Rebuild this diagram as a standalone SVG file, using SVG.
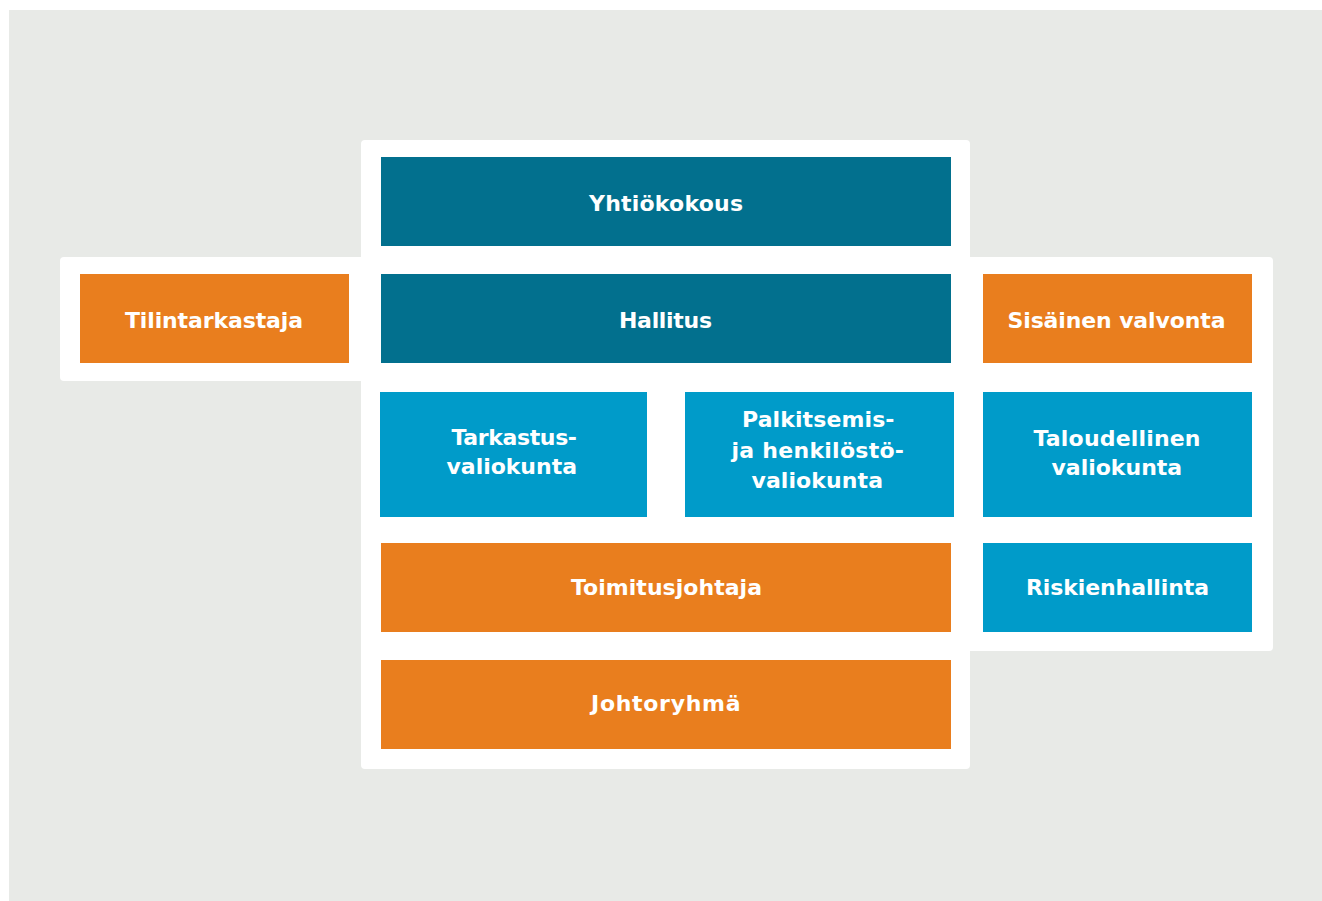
<svg xmlns="http://www.w3.org/2000/svg" width="1322" height="901" viewBox="0 0 1322 901">
<style>
.panel{fill:#ffffff}
.dark{fill:#02708E}
.orange{fill:#E97E1E}
.light{fill:#009BC9}
.t{font-family:"DejaVu Sans","Liberation Sans",sans-serif;font-weight:700;font-size:22px;fill:#ffffff}
</style>
<rect x="0" y="0" width="1322" height="901" fill="#ffffff"/>
<rect x="9" y="10" width="1313" height="891" fill="#E8EAE7"/>
<g id="panels">
<rect class="panel" x="60" y="257" width="320" height="124" rx="4"/>
<rect class="panel" x="950" y="257" width="323" height="394" rx="4"/>
<rect class="panel" x="361" y="140" width="609" height="629" rx="4"/>
</g>
<g id="connectors"></g>
<g id="yhtiokokous">
<rect class="dark" x="381" y="157" width="570" height="89"/>
<text class="t" x="589" y="210.5" textLength="154" lengthAdjust="spacing">Yhtiökokous</text>
</g>
<g id="tilintarkastaja">
<rect class="orange" x="80" y="274" width="269" height="89"/>
<text class="t" x="125" y="328" textLength="178" lengthAdjust="spacing">Tilintarkastaja</text>
</g>
<g id="hallitus">
<rect class="dark" x="381" y="274" width="570" height="89"/>
<text class="t" x="619" y="327.5" textLength="93" lengthAdjust="spacing">Hallitus</text>
</g>
<g id="sisainen-valvonta">
<rect class="orange" x="983" y="274" width="269" height="89"/>
<text class="t" x="1007.5" y="327.5" textLength="218" lengthAdjust="spacing">Sisäinen valvonta</text>
</g>
<g id="tarkastusvaliokunta">
<rect class="light" x="380" y="392" width="267" height="125"/>
<text class="t" x="451.5" y="445" textLength="125.5" lengthAdjust="spacing">Tarkastus-</text>
<text class="t" x="446.5" y="474" textLength="130.5" lengthAdjust="spacing">valiokunta</text>
</g>
<g id="palkitsemisvaliokunta">
<rect class="light" x="685" y="392" width="269" height="125"/>
<text class="t" x="742" y="426.5" textLength="152.5" lengthAdjust="spacing">Palkitsemis-</text>
<text class="t" x="731.5" y="457.5" textLength="172.5" lengthAdjust="spacing">ja henkilöstö-</text>
<text class="t" x="751.5" y="488.3" textLength="131.5" lengthAdjust="spacing">valiokunta</text>
</g>
<g id="taloudellinen-valiokunta">
<rect class="light" x="983" y="392" width="269" height="125"/>
<text class="t" x="1033.5" y="445.7" textLength="167" lengthAdjust="spacing">Taloudellinen</text>
<text class="t" x="1051.5" y="474.7" textLength="130.7" lengthAdjust="spacing">valiokunta</text>
</g>
<g id="toimitusjohtaja">
<rect class="orange" x="381" y="543" width="570" height="89"/>
<text class="t" x="571" y="594.7" textLength="191" lengthAdjust="spacing">Toimitusjohtaja</text>
</g>
<g id="riskienhallinta">
<rect class="light" x="983" y="543" width="269" height="89"/>
<text class="t" x="1026" y="595" textLength="183" lengthAdjust="spacing">Riskienhallinta</text>
</g>
<g id="johtoryhma">
<rect class="orange" x="381" y="660" width="570" height="89"/>
<text class="t" x="591" y="710.7" textLength="149.5" lengthAdjust="spacing">Johtoryhmä</text>
</g>
</svg>
